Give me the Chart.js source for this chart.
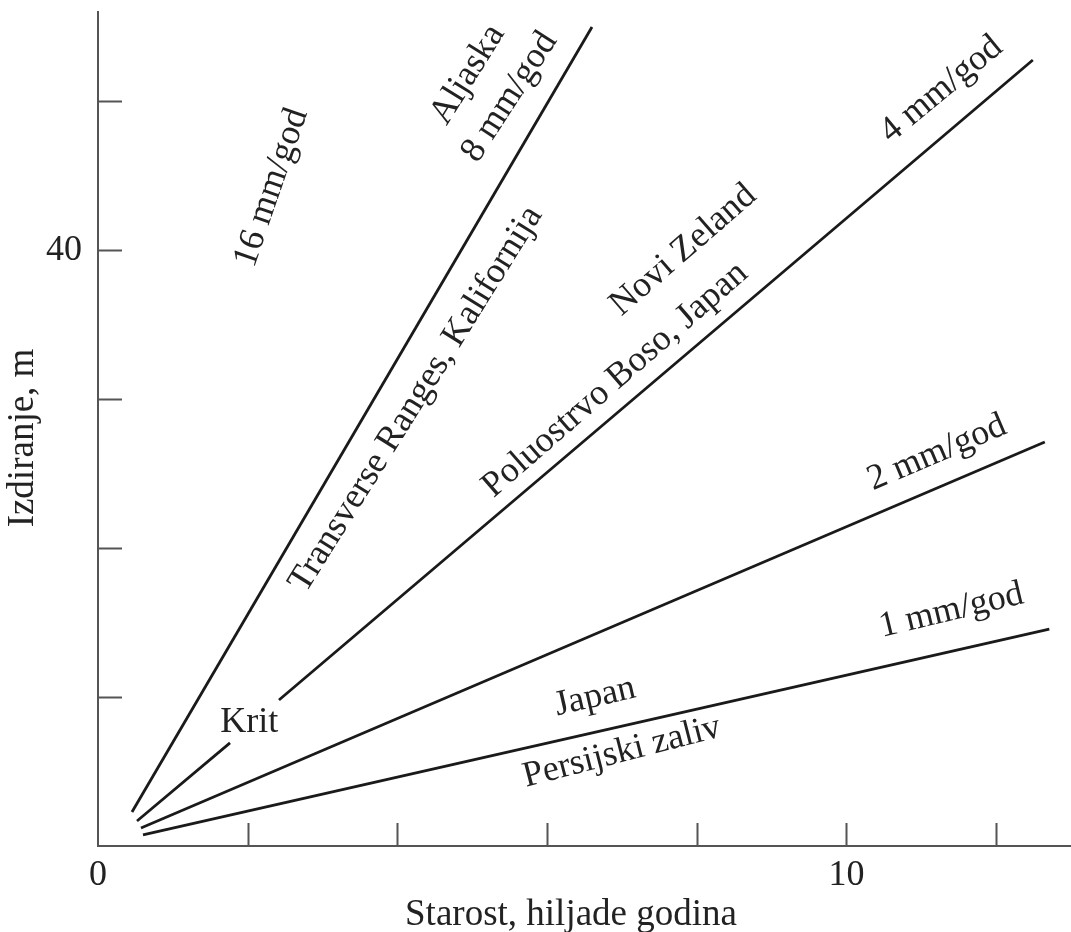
<!DOCTYPE html>
<html>
<head>
<meta charset="utf-8">
<title>Izdiranje</title>
<script src="https://cdn.jsdelivr.net/npm/chart.js@4.4.1/dist/chart.umd.min.js"></script>
<style>
  html, body { margin: 0; padding: 0; background: #fff; }
  #chart { display: block; }
</style>
</head>
<body>
<canvas id="chart" width="1071" height="932"></canvas>
<script>
// Uplift lines (age in thousands of years, uplift in m)
const ages8 = [0.454, 6.60];
const uplift8 = [2.28, 54.99];
const ages4 = [0.521, 1.764, 2.09, 2.418, 12.49];
const uplift4 = [1.68, 6.92, null, 9.80, 52.78];   // gap left for the "Krit" label
const ages2 = [0.574, 12.65];
const uplift2 = [1.21, 27.13];
const ages1 = [0.601, 12.71];
const uplift1 = [0.74, 14.57];

// Axis ticks
const xTicks = [0, 2, 4, 6, 8, 10, 12];
const xTickLabels = ['0', '', '', '', '', '10', ''];
const yTicks = [0, 10, 20, 30, 40, 50];
const yTickLabels = ['', '', '', '', '40', ''];

// Labels along the lines
const labelText = ['16 mm/god', 'Aljaska', '8 mm/god', 'Transverse Ranges, Kalifornija',
  'Novi Zeland', '4 mm/god', 'Poluostrvo Boso, Japan', '2 mm/god',
  'Japan', '1 mm/god', 'Persijski zaliv', 'Krit'];
const labelAge = [2.32, 4.94, 5.50, 4.25, 7.82, 11.27, 6.91, 11.21, 6.64, 11.40, 7.00, 2.02];
const labelUplift = [44.2, 51.8, 50.3, 30.0, 40.0, 50.8, 31.3, 26.4, 10.0, 15.8, 6.3, 8.3];
const labelAngle = [71, 58, 57, 58, 41, 39.5, 41, 23, 13, 13.5, 14.5, 0];

const axisColor = '#555';
const lineColor = '#1a1a1a';
const textColor = '#222';
const serif = '"Liberation Serif", "Times New Roman", serif';

function toPoints(xs, ys) {
    return xs.map((v, i) => ({ x: v, y: ys[i] }));
}

function lineSet(xs, ys) {
    return {
        data: toPoints(xs, ys),
        showLine: true,
        borderColor: lineColor,
        borderWidth: 2.8,
        pointRadius: 0,
        spanGaps: false
    };
}

// tick marks pointing into the plot
const innerTicks = {
    id: 'innerTicks',
    afterDraw(chart) {
        const { ctx, chartArea, scales: { x, y } } = chart;
        ctx.save();
        ctx.strokeStyle = axisColor;
        ctx.lineWidth = 2;
        ctx.beginPath();
        x.ticks.forEach(t => {
            if (t.value === 0) return;
            const px = Math.round(x.getPixelForValue(t.value)) + 0.5;
            ctx.moveTo(px, chartArea.bottom);
            ctx.lineTo(px, chartArea.bottom - 23);
        });
        y.ticks.forEach(t => {
            if (t.value === 0) return;
            const py = Math.round(y.getPixelForValue(t.value)) + 0.5;
            ctx.moveTo(chartArea.left, py);
            ctx.lineTo(chartArea.left + 24, py);
        });
        ctx.stroke();
        ctx.restore();
    }
};

// rotated labels next to the lines + axis titles
const lineLabels = {
    id: 'lineLabels',
    afterDatasetsDraw(chart) {
        const { ctx, scales: { x, y } } = chart;
        ctx.save();
        ctx.fillStyle = textColor;
        ctx.font = '36px ' + serif;
        ctx.textAlign = 'center';
        ctx.textBaseline = 'middle';
        labelText.forEach((t, i) => {
            ctx.save();
            ctx.translate(x.getPixelForValue(labelAge[i]), y.getPixelForValue(labelUplift[i]));
            ctx.rotate(-labelAngle[i] * Math.PI / 180);
            ctx.fillText(t, 0, 0);
            ctx.restore();
        });

        ctx.textBaseline = 'alphabetic';
        ctx.font = '37px ' + serif;
        ctx.fillText('Starost, hiljade godina', 571, 925);
        ctx.save();
        ctx.translate(33, 438);
        ctx.rotate(-Math.PI / 2);
        ctx.fillText('Izdiranje, m', 0, 0);
        ctx.restore();
        ctx.restore();
    }
};

const ctx = document.getElementById('chart').getContext('2d');
new Chart(ctx, {
    type: 'scatter',
    data: {
        datasets: [
            lineSet(ages8, uplift8),
            lineSet(ages4, uplift4),
            lineSet(ages2, uplift2),
            lineSet(ages1, uplift1)
        ]
    },
    options: {
        responsive: false,
        animation: false,
        devicePixelRatio: 1,
        layout: { padding: { top: 12, right: 0, left: 0, bottom: 0 } },
        plugins: {
            legend: { display: false },
            tooltip: { enabled: false }
        },
        scales: {
            x: {
                type: 'linear',
                min: 0,
                max: 13,
                afterFit: s => {
                    s.height = 86;
                    s.paddingLeft = 0;
                    s.paddingRight = 0;
                },
                afterBuildTicks: s => { s.ticks = xTicks.map(v => ({ value: v })); },
                grid: { display: false, drawTicks: false },
                border: { display: true, color: axisColor, width: 2 },
                ticks: {
                    padding: 8,
                    color: textColor,
                    font: { family: serif, size: 36 },
                    maxRotation: 0,
                    autoSkip: false,
                    callback: (v, i) => xTickLabels[i]
                }
            },
            y: {
                type: 'linear',
                min: 0,
                max: 56,
                afterFit: s => {
                    s.width = 98;
                    s.paddingTop = 0;
                    s.paddingBottom = 0;
                },
                afterBuildTicks: s => { s.ticks = yTicks.map(v => ({ value: v })); },
                grid: { display: false, drawTicks: false },
                border: { display: true, color: axisColor, width: 2 },
                ticks: {
                    padding: 16,
                    color: textColor,
                    font: { family: serif, size: 36 },
                    autoSkip: false,
                    callback: (v, i) => yTickLabels[i]
                }
            }
        }
    },
    plugins: [innerTicks, lineLabels]
});
</script>
</body>
</html>
